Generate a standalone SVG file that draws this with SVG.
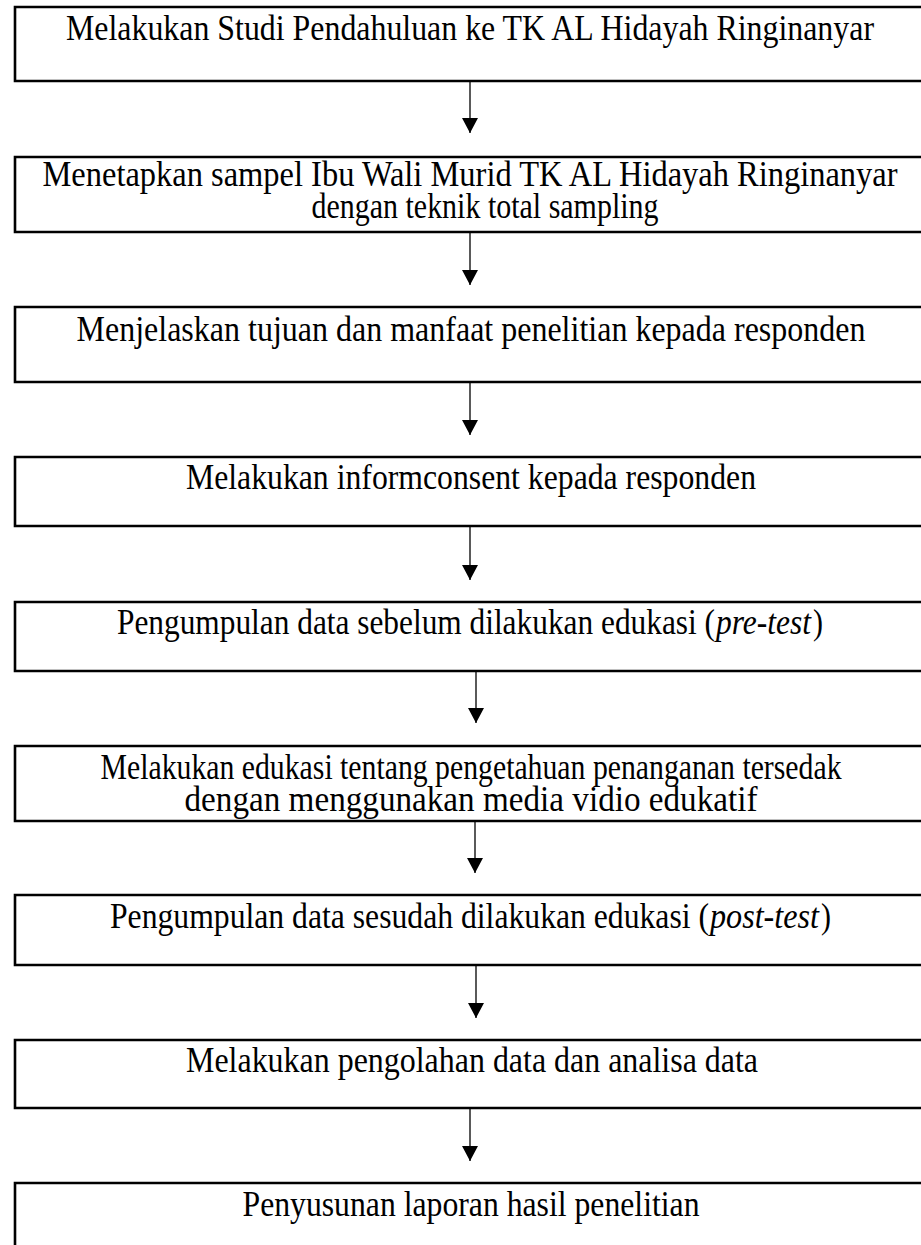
<svg xmlns="http://www.w3.org/2000/svg" width="921" height="1245" viewBox="0 0 921 1245">
<defs>
<style>
.box{fill:#fff;stroke:#000;stroke-width:2.6}
.t{font-family:"Liberation Serif","Times New Roman",serif;font-size:32px;fill:#000;text-anchor:middle}
.s{text-anchor:start}
.i{font-style:italic}
.ln{stroke:#000;stroke-width:1.3;fill:none}
</style>
<marker id="ah" markerWidth="16" markerHeight="16" refX="15" refY="8" orient="auto" markerUnits="userSpaceOnUse">
<path d="M0,0 L15,8 L0,16 Z" fill="#000"/>
</marker>
</defs>
<rect width="921" height="1245" fill="#fff"/>
<g id="connectors">
<line class="ln" x1="470" y1="82" x2="470" y2="133" marker-end="url(#ah)"/>
<line class="ln" x1="470" y1="233" x2="470" y2="285" marker-end="url(#ah)"/>
<line class="ln" x1="470" y1="383" x2="470" y2="435" marker-end="url(#ah)"/>
<line class="ln" x1="470" y1="527" x2="470" y2="580" marker-end="url(#ah)"/>
<line class="ln" x1="476" y1="672" x2="476" y2="723" marker-end="url(#ah)"/>
<line class="ln" x1="475" y1="822" x2="475" y2="873" marker-end="url(#ah)"/>
<line class="ln" x1="476" y1="966" x2="476" y2="1018" marker-end="url(#ah)"/>
<line class="ln" x1="470" y1="1109" x2="470" y2="1161" marker-end="url(#ah)"/>
</g>
<g id="n1"><path class="box" d="M922,7 H15 V81 H922"/>
<text class="t" transform="translate(470,40) scale(1,1.1)" textLength="808" lengthAdjust="spacingAndGlyphs">Melakukan Studi Pendahuluan ke TK AL Hidayah Ringinanyar</text></g>
<g id="n2"><path class="box" d="M922,157 H15 V232 H922"/>
<text class="t" transform="translate(470,186) scale(1,1.1)"><tspan x="0" y="0" textLength="855" lengthAdjust="spacingAndGlyphs">Menetapkan sampel Ibu Wali Murid TK AL Hidayah Ringinanyar</tspan><tspan x="15" y="29.1" textLength="347" lengthAdjust="spacingAndGlyphs">dengan teknik total sampling</tspan></text></g>
<g id="n3"><path class="box" d="M922,307 H15 V382 H922"/>
<text class="t" transform="translate(471,341) scale(1,1.1)" textLength="789" lengthAdjust="spacingAndGlyphs">Menjelaskan tujuan dan manfaat penelitian kepada responden</text></g>
<g id="n4"><path class="box" d="M922,457 H15 V526 H922"/>
<text class="t" transform="translate(471,489) scale(1,1.1)" textLength="570" lengthAdjust="spacingAndGlyphs">Melakukan informconsent kepada responden</text></g>
<g id="n5"><path class="box" d="M922,602 H15 V671 H922"/>
<text class="t s" transform="translate(117,634) scale(1,1.1)" textLength="598" lengthAdjust="spacingAndGlyphs">Pengumpulan data sebelum dilakukan edukasi (</text>
<text class="t s i" transform="translate(716,634) scale(1,1.1)" textLength="95" lengthAdjust="spacingAndGlyphs">pre-test</text>
<text class="t s" transform="translate(813,634) scale(1,1.1)" textLength="10" lengthAdjust="spacingAndGlyphs">)</text></g>
<g id="n6"><path class="box" d="M922,746 H15 V821 H922"/>
<text class="t" transform="translate(471,779) scale(1,1.1)"><tspan x="0" y="0" textLength="741" lengthAdjust="spacingAndGlyphs">Melakukan edukasi tentang pengetahuan penanganan tersedak</tspan><tspan x="0" y="29.1" textLength="573" lengthAdjust="spacingAndGlyphs">dengan menggunakan media vidio edukatif</tspan></text></g>
<g id="n7"><path class="box" d="M922,895 H15 V965 H922"/>
<text class="t s" transform="translate(110,928) scale(1,1.1)" textLength="599" lengthAdjust="spacingAndGlyphs">Pengumpulan data sesudah dilakukan edukasi (</text>
<text class="t s i" transform="translate(710,928) scale(1,1.1)" textLength="109" lengthAdjust="spacingAndGlyphs">post-test</text>
<text class="t s" transform="translate(821,928) scale(1,1.1)" textLength="10" lengthAdjust="spacingAndGlyphs">)</text></g>
<g id="n8"><path class="box" d="M922,1040 H15 V1108 H922"/>
<text class="t" transform="translate(472,1072) scale(1,1.1)" textLength="572" lengthAdjust="spacingAndGlyphs">Melakukan pengolahan data dan analisa data</text></g>
<g id="n9"><path class="box" d="M922,1183 H15 V1250"/>
<text class="t" transform="translate(471,1216) scale(1,1.1)" textLength="457" lengthAdjust="spacingAndGlyphs">Penyusunan laporan hasil penelitian</text></g>
</svg>
